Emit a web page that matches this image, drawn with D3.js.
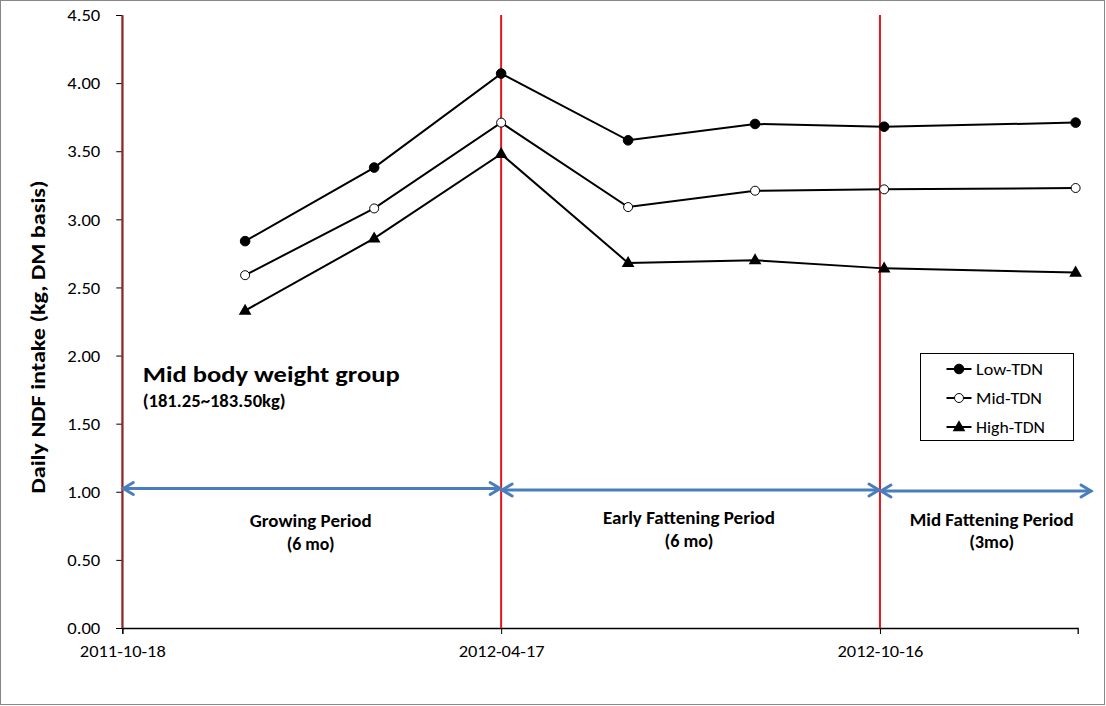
<!DOCTYPE html>
<html><head><meta charset="utf-8">
<script src="https://cdn.jsdelivr.net/npm/d3@7"></script>
<style>
html,body{margin:0;padding:0;background:#fff;}
svg text{font-family:Calibri, Carlito, Lato, sans-serif;}
</style></head>
<body>
<svg id="chart" width="1106" height="706"></svg>
<script>
const dates = ["2011-12-16","2012-02-16","2012-04-17","2012-06-17","2012-08-17","2012-10-18","2013-01-18"];
const lowTDN  = [2.84, 3.38, 4.07, 3.58, 3.70, 3.68, 3.71];
const midTDN  = [2.59, 3.08, 3.71, 3.09, 3.21, 3.22, 3.23];
const highTDN = [2.33, 2.86, 3.48, 2.68, 2.70, 2.64, 2.61];
const seriesNames = ["Low-TDN","Mid-TDN","High-TDN"];
const xTickLabels = ["2011-10-18","2012-04-17","2012-10-16"];
const xDomain = ["2011-10-18","2013-01-19"];
const yTicks = [0,0.5,1,1.5,2,2.5,3,3.5,4,4.5];
const periodBounds = ["2011-10-18","2012-04-17","2012-10-16","2013-01-25"];
const periodLabels = [["Growing Period","(6 mo)"],["Early Fattening Period","(6 mo)"],["Mid Fattening Period","(3mo)"]];
const title = "Mid body weight group";
const subtitle = "(181.25~183.50kg)";
const yTitle = "Daily NDF intake (kg, DM basis)";

const parse = d3.utcParse("%Y-%m-%d");
const fmt = d3.utcFormat("%Y-%m-%d");
const svg = d3.select("#chart");
function fit(sel, w){ return sel.attr("textLength", w).attr("lengthAdjust","spacingAndGlyphs"); }

svg.append("rect").attr("x",0.5).attr("y",0.5).attr("width",1104).attr("height",704)
  .attr("fill","#fff").attr("stroke","#878787").attr("stroke-width",1);

const x = d3.scaleUtc().domain(xDomain.map(parse)).range([122.3,1077.7]);
const y = d3.scaleLinear().domain([0,4.5]).range([628,15]);

// Y axis
const yAxis = svg.append("g").attr("transform","translate(122.3,0)")
  .call(d3.axisLeft(y).tickValues(yTicks).tickFormat(d3.format(".2f")).tickSize(6).tickPadding(6));
yAxis.select(".domain").attr("stroke","#000");
yAxis.selectAll(".tick line").attr("stroke","#000");
yAxis.selectAll("text").attr("font-size",16).attr("fill","#000").attr("dx",-10).attr("dy","0.36em");
fit(yAxis.selectAll("text"), 33);

// X axis
const xAxis = svg.append("g").attr("transform","translate(0,628)")
  .call(d3.axisBottom(x).tickValues(xTickLabels.map(parse)).tickFormat(fmt).tickSizeOuter(0).tickSize(6).tickPadding(11));
xAxis.select(".domain").attr("stroke","#000").attr("stroke-width",1.3);
xAxis.selectAll(".tick line").attr("stroke","#000");
xAxis.selectAll("text").attr("font-size",16.5).attr("fill","#000");
fit(xAxis.selectAll("text"), 86);

// red period lines
periodBounds.slice(0,3).forEach((d,i)=>{
  svg.append("line").attr("x1",x(parse(d))).attr("x2",x(parse(d)))
    .attr("y1",y(4.5)).attr("y2",y(0))
    .attr("stroke", i===0 ? "#9b2222" : "#e3161c").attr("stroke-width",2);
});

// arrows
const blue = "#4a7ebb";
function arrow(x1,x2,yy){
  const g = svg.append("g").attr("stroke",blue).attr("stroke-width",3).attr("fill","none").attr("stroke-linecap","round");
  g.append("line").attr("x1",x1+1).attr("x2",x2-1).attr("y1",yy).attr("y2",yy);
  g.append("path").attr("d",`M${x1+11},${yy-6}L${x1+1},${yy}L${x1+11},${yy+6}`);
  g.append("path").attr("d",`M${x2-11},${yy-6}L${x2-1},${yy}L${x2-11},${yy+6}`);
}
const arrowEnds = periodBounds.map(parse);
for(let i=0;i<3;i++){
  let x1 = x(arrowEnds[i]), x2 = x(arrowEnds[i+1]);
  if(i===2) x2 = 1092;
  arrow(x1, x2, [488.5,490,491][i]);
}
// period labels
const labelCenters = [310.7, 689, 991.7];
const labelBase = [[527,550],[524,547],[526,548]];
const labelWidths = [[122,48],[172,49],[164,45]];
periodLabels.forEach((lab,i)=>{
  lab.forEach((t,j)=>{
    const tx = svg.append("text").attr("x",labelCenters[i]).attr("y",labelBase[i][j])
      .attr("text-anchor","middle").attr("font-size",18).attr("font-weight","bold").attr("fill","#000").text(t);
    fit(tx, labelWidths[i][j]);
  });
});

// title texts
fit(svg.append("text").attr("x",142.7).attr("y",382).attr("font-size",23).attr("font-weight","bold").attr("fill","#000").text(title), 257);
fit(svg.append("text").attr("x",142.7).attr("y",407).attr("font-size",17).attr("font-weight","bold").attr("fill","#000").text(subtitle), 143);

// y title
fit(svg.append("text").attr("transform","translate(45,337) rotate(-90)").attr("text-anchor","middle")
  .attr("font-size",21).attr("font-weight","bold").attr("fill","#000").text(yTitle), 313);

// series
const seriesVals = [lowTDN, midTDN, highTDN];
const pts = dates.map(parse);
const line = d3.line().x(d=>x(d[0])).y(d=>y(d[1]));
function marker(g, kind, cx, cy){
  if(kind===0) g.append("circle").attr("cx",cx).attr("cy",cy).attr("r",4.8).attr("fill","#000").attr("stroke","#000");
  else if(kind===1) g.append("circle").attr("cx",cx).attr("cy",cy).attr("r",4.5).attr("fill","#fff").attr("stroke","#000").attr("stroke-width",1);
  else g.append("path").attr("d",d3.symbol(d3.symbolTriangle,70)()).attr("transform",`translate(${cx},${cy+0.5})`).attr("fill","#000");
}
seriesVals.forEach((vals,k)=>{
  const data = pts.map((p,i)=>[p,vals[i]]);
  svg.append("path").datum(data).attr("d",line).attr("fill","none").attr("stroke","#000").attr("stroke-width",2);
  const g = svg.append("g");
  data.forEach(d=>marker(g,k,x(d[0]),y(d[1])));
});

// legend
svg.append("rect").attr("x",920.5).attr("y",353.5).attr("width",153).attr("height",87).attr("fill","#fff").attr("stroke","#000").attr("stroke-width",1);
const legY = [369,398,427];
const legW = [67,66,69];
seriesNames.forEach((n,k)=>{
  svg.append("line").attr("x1",946.5).attr("x2",971.5).attr("y1",legY[k]).attr("y2",legY[k]).attr("stroke","#000").attr("stroke-width",2);
  const g = svg.append("g");
  marker(g,k,959,legY[k]);
  fit(svg.append("text").attr("x",976).attr("y",legY[k]+6).attr("font-size",16.5).attr("fill","#000").text(n), legW[k]);
});
</script>
</body></html>
